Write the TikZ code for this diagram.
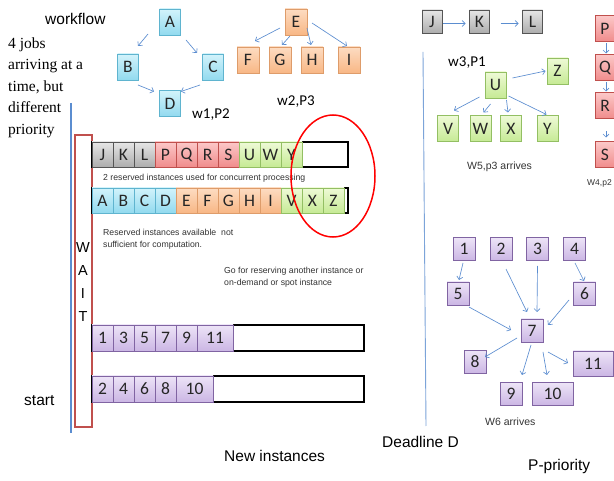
\documentclass[tikz,border=0pt]{standalone}
\usepackage{fontspec}
\setmainfont{Liberation Serif}
\setsansfont{Liberation Sans}
\newfontfamily\boxfont{Carlito}
\usetikzlibrary{arrows.meta,shadows,calc}

% task colours (top / bottom of the shading, border)
\definecolor{cyanT}{HTML}{D2F3FB}\definecolor{cyanB}{HTML}{92DAEF}\definecolor{cyanD}{HTML}{5FB4CF}
\definecolor{orT}{HTML}{FDDCC2}\definecolor{orB}{HTML}{F8B785}\definecolor{orD}{HTML}{DE9C6A}
\definecolor{grT}{HTML}{E6E6E6}\definecolor{grB}{HTML}{ADADAD}\definecolor{grD}{HTML}{555555}
\definecolor{gnT}{HTML}{EEFAD6}\definecolor{gnB}{HTML}{C6EA95}\definecolor{gnD}{HTML}{93BF63}
\definecolor{rdT}{HTML}{FCC8C8}\definecolor{rdB}{HTML}{F08C8C}\definecolor{rdD}{HTML}{C0504D}
\definecolor{puT}{HTML}{EDE4F7}\definecolor{puB}{HTML}{CBB6E4}\definecolor{puD}{HTML}{8064A2}
\definecolor{flow}{HTML}{5B8DD0}
\definecolor{waitred}{HTML}{C0504D}
\definecolor{note}{HTML}{333333}

\tikzset{
  box/.style={line width=0.6pt, inner sep=0pt, minimum width=21pt, minimum height=26pt,
    text=black!85, font=\boxfont\fontsize{17.5}{17.5}\selectfont,
    drop shadow={shadow xshift=0.7pt, shadow yshift=-0.9pt, opacity=0.3}},
  cyanfill/.style={top color=cyanT, bottom color=cyanB, draw=cyanD},
  orangefill/.style={top color=orT, bottom color=orB, draw=orD},
  grayfill/.style={top color=grT, bottom color=grB, draw=grD},
  greenfill/.style={top color=gnT, bottom color=gnB, draw=gnD},
  redfill/.style={top color=rdT, bottom color=rdB, draw=rdD},
  purplefill/.style={top color=puT, bottom color=puB, draw=puD},
  cell/.style={box, minimum width=21pt, minimum height=25pt},
  numbox/.style={box, purplefill, minimum width=22pt, minimum height=23pt},
  arr/.style={draw=flow, line width=0.65pt, -{Straight Barb[length=3pt,width=6pt]}},
  barline/.style={draw=black, line width=1.6pt},
  bigtxt/.style={inner sep=0pt, anchor=base west, font=\sffamily\fontsize{15.5}{18}\selectfont},
  seriftxt/.style={inner sep=0pt, anchor=base west, font=\rmfamily\fontsize{15.5}{18}\selectfont},
  wlabel/.style={inner sep=0pt, anchor=base west, font=\boxfont\fontsize{15}{18}\selectfont},
  notetxt/.style={inner sep=0pt, anchor=base west, text=note, font=\sffamily\fontsize{8.7}{10}\selectfont},
  smalltxt/.style={inner sep=0pt, anchor=base west, text=note, font=\sffamily\fontsize{10.5}{12}\selectfont},
  waitletter/.style={inner sep=0pt, font=\sffamily\fontsize{14.5}{16}\selectfont},
}

\begin{document}
\begin{tikzpicture}[x=1pt,y=-1pt]
\fill[white] (0,0) rectangle (614,481);
\useasboundingbox (0,0) rectangle (614,481);

% ---- left-hand text
\node[bigtxt] (twf) at (45,24.5) {workflow};
\node[seriftxt] (tl1) at (8,48.5) {4 jobs};
\node[seriftxt] (tl2) at (8,70) {arriving at a};
\node[seriftxt] (tl3) at (8,91.5) {time, but};
\node[seriftxt] (tl4) at (8,113) {different};
\node[seriftxt] (tl5) at (8,134.5) {priority};
\node[bigtxt] (tstart) at (24,406) {start};

% ---- workflow w1
\node[box,cyanfill] (A) at (170,22) {A};
\node[box,cyanfill] (B) at (128,67) {B};
\node[box,cyanfill] (C) at (213,67) {C};
\node[box,cyanfill] (D) at (170,103.5) {D};
\draw[arr] ($(A)+(-22,12)$) -- ($(B)+(10,-21)$);
\draw[arr] ($(A)+(16,18)$) -- ($(C)+(-16,-14)$);
\draw[arr] ($(B)+(10,18)$) -- ($(D)+(-16,-12)$);
\draw[arr] ($(C)+(-13,18)$) -- ($(D)+(11,-12)$);
\node[wlabel] (tw1) at (192,118.5) {w1,P2};

% ---- workflow w2
\node[box,orangefill,minimum width=22pt] (E) at (296,22) {E};
\node[box,orangefill,minimum width=22pt] (F) at (248,60) {F};
\node[box,orangefill,minimum width=22pt] (G) at (280,60) {G};
\node[box,orangefill,minimum width=22pt] (H) at (312,60) {H};
\node[box,orangefill,minimum width=22pt] (I) at (349,60) {I};
\draw[arr] ($(E)+(-16,6)$) -- ($(F)+(7,-19)$);
\draw[arr] ($(E)+(-6,14)$) -- ($(G)+(2,-15)$);
\draw[arr] ($(E)+(11,6)$) -- ($(H)+(-1,-15)$);
\draw[arr] ($(E)+(16,1)$) -- ($(I)+(-2,-14)$);
\node[wlabel] (tw2) at (277,106) {w2,P3};

% ---- workflow w3
\node[box,grayfill,minimum width=20pt,minimum height=23pt] (J) at (432,21.5) {J};
\node[box,grayfill,minimum width=20pt,minimum height=23pt] (K) at (479.5,21.5) {K};
\node[box,grayfill,minimum width=20pt,minimum height=23pt] (L) at (532.5,21.5) {L};
\draw[arr] ($(J)+(11,2)$) -- ($(K)+(-14,2)$);
\draw[arr] ($(K)+(21,2)$) -- ($(L)+(-14,2)$);
\node[wlabel] (tw3) at (448,67) {w3,P1};

% ---- workflow w5
\node[box,greenfill] (U) at (495.5,85) {U};
\node[box,greenfill] (Z) at (557.5,71) {Z};
\node[box,greenfill] (V) at (448,128.5) {V};
\node[box,greenfill] (W) at (480.5,128.5) {W};
\node[box,greenfill] (X) at (511,128.5) {X};
\node[box,greenfill] (Y) at (547.5,128.5) {Y};
\draw[arr] ($(U)+(17,-7)$) -- ($(Z)+(-12,0)$);
\draw[arr] ($(U)+(-16,12)$) -- ($(V)+(6,-18)$);
\draw[arr] ($(U)+(-5,19)$) -- ($(W)+(3,-16)$);
\draw[arr] ($(U)+(11,15)$) -- ($(X)+(-3,-16)$);
\draw[arr] ($(U)+(13,11)$) -- ($(Y)+(-1,-14)$);
\node[smalltxt] (tw5) at (467,170) {W5,p3 arrives};

% ---- workflow w4
\node[box,redfill,minimum width=20pt] (P) at (605,28.5) {P};
\node[box,redfill,minimum width=20pt] (Q) at (605,67.5) {Q};
\node[box,redfill,minimum width=20pt] (R) at (605,105.5) {R};
\node[box,redfill,minimum width=20pt] (S) at (605,154.5) {S};
\draw[arr] ($(P)+(1,15)$) -- ($(Q)+(1,-14)$);
\draw[arr] ($(Q)+(1,15)$) -- ($(R)+(1,-14)$);
\draw[arr] ($(R)+(1,26)$) -- ($(S)+(1,-17)$);
\node[smalltxt,font=\sffamily\fontsize{8.5}{10}\selectfont] (tw4) at (587,186) {W4,p2};

% ---- workflow w6
\node[numbox] (n1) at (464,249) {1};
\node[numbox] (n2) at (501,249) {2};
\node[numbox] (n3) at (537.5,249) {3};
\node[numbox] (n4) at (574.5,249) {4};
\node[numbox] (n5) at (458,293.5) {5};
\node[numbox] (n6) at (584.5,293.5) {6};
\node[numbox] (n7) at (532,330.5) {7};
\node[numbox] (n8) at (475,362) {8};
\node[numbox,minimum width=40pt,minimum height=25pt] (n11) at (593,363.5) {11};
\node[numbox] (n9) at (511,394) {9};
\node[numbox,minimum width=41pt] (n10) at (552.5,394) {10};
\draw[arr] ($(n1)+(-1,14)$) -- ($(n5)+(1,-13.5)$);
\draw[arr] ($(n2)+(5,20)$) -- ($(n7)+(-5,-18.5)$);
\draw[arr] ($(n3)+(0,17)$) -- ($(n7)+(5,-18.5)$);
\draw[arr] ($(n4)+(0.5,14)$) -- ($(n6)+(-0.5,-12.5)$);
\draw[arr] ($(n5)+(11,13.5)$) -- ($(n7)+(-21,-0.5)$);
\draw[arr] ($(n6)+(-15.5,6.5)$) -- ($(n7)+(16,-5.5)$);
\draw[arr] ($(n7)+(-15,7.5)$) -- ($(n8)+(10,-5)$);
\draw[arr] ($(n7)+(-1,14.5)$) -- ($(n9)+(11,-19)$);
\draw[arr] ($(n7)+(11,21.5)$) -- ($(n10)+(-5.5,-19)$);
\draw[arr] ($(n7)+(16,21.5)$) -- ($(n11)+(-25,-0.5)$);
\node[smalltxt] (tw6) at (485,426) {W6 arrives};

% ---- time lines
\draw[draw=flow, line width=1.1pt] (71,103) -- (71,433);
\draw[draw=flow!80, line width=0.9pt] (423,52) -- (426,426);
\node[bigtxt] (tdead) at (382,448) {Deadline D};
\node[bigtxt] (tprio) at (528,471) {P-priority};

% ---- WAIT column
\draw[draw=waitred, line width=1.2pt, fill=white] (75,135) rectangle (92,427);
\node[waitletter] (wW) at (83,247.5) {W};
\node[waitletter] (wA) at (83,271) {A};
\node[waitletter] (wI) at (83,294) {I};
\node[waitletter] (wT) at (83,317) {T};

% ---- reserved instances
\draw[barline] (92,142) rectangle (348,167);
\foreach \t/\s [count=\i from 0] in {J/grayfill,K/grayfill,L/grayfill,P/redfill,Q/redfill,R/redfill,S/redfill,U/greenfill,W/greenfill,Y/greenfill}
  \node[cell,\s] (ra\i) at (102.5+21*\i,154.5) {\t};
\node[notetxt] (tres) at (103,181) {2 reserved instances used for concurrent processing};
\draw[barline] (92,188) rectangle (348,213);
\foreach \t/\s [count=\i from 0] in {A/cyanfill,B/cyanfill,C/cyanfill,D/cyanfill,E/orangefill,F/orangefill,G/orangefill,H/orangefill,I/orangefill,V/greenfill,X/greenfill,Z/greenfill}
  \node[cell,\s] (rb\i) at (102.5+21*\i,200.5) {\t};
\node[notetxt] (tns1) at (103,236) {Reserved instances available \ not};
\node[notetxt] (tns2) at (103,248) {sufficient for computation.};
\node[notetxt] (tgo1) at (224,274) {Go for reserving another instance or};
\node[notetxt] (tgo2) at (224,286) {on-demand or spot instance};

% ---- new instances
\draw[barline] (92,325) rectangle (364,351);
\foreach \t [count=\i from 0] in {1,3,5,7,9}
  \node[cell,purplefill,minimum height=26pt] (na\i) at (102.5+21*\i,338) {\t};
\node[cell,purplefill,minimum height=26pt,minimum width=36pt] (na5) at (215,338) {11};
\draw[barline] (92,376) rectangle (364,402);
\foreach \t [count=\i from 0] in {2,4,6,8}
  \node[cell,purplefill,minimum height=26pt] (nb\i) at (102.5+21*\i,389) {\t};
\node[cell,purplefill,minimum height=26pt,minimum width=37pt] (nb4) at (194.5,389) {10};
\node[bigtxt] (tnew) at (224,461) {New instances};

% ---- overflow marker
\draw[red, line width=1.5pt] (333,176) ellipse [x radius=42pt, y radius=61pt];
\end{tikzpicture}
\end{document}
